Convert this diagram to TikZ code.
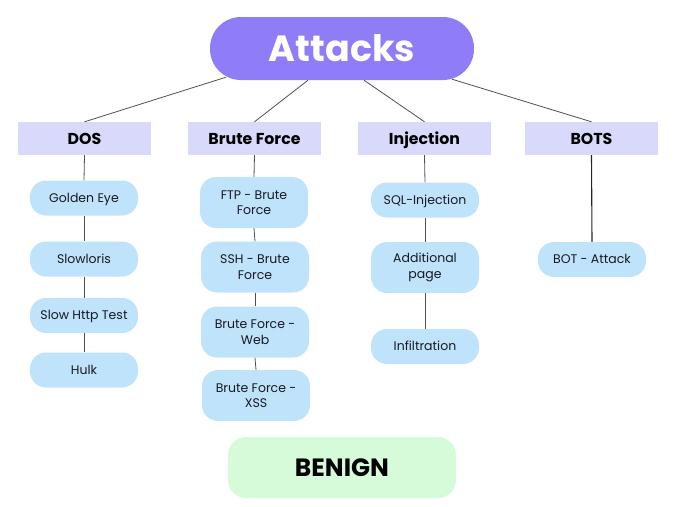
\documentclass[tikz,border=0pt]{standalone}
\usepackage{fontspec}
\setmainfont{Poppins}
\definecolor{purp}{RGB}{143,124,247}
\definecolor{lav}{RGB}{217,217,252}
\definecolor{lblue}{RGB}{190,227,251}
\definecolor{lgreen}{RGB}{214,251,217}
\definecolor{txt}{RGB}{25,25,35}
\definecolor{ln}{RGB}{80,80,80}
\begin{document}
\begin{tikzpicture}[x=1pt,y=-1pt,
  root/.style={fill=purp,rounded corners=31pt,minimum width=264pt,minimum height=63pt,inner sep=0pt,text=white,font=\fontsize{36.5}{38}\selectfont\bfseries},
  cat/.style={fill=lav,minimum width=133pt,minimum height=33pt,inner sep=0pt,text=black,text height=13pt,text depth=2pt,font=\fontsize{15.8}{18}\selectfont\bfseries},
  item/.style={fill=lblue,rounded corners=16pt,minimum width=108pt,inner sep=0pt,text=txt,align=center,font=\fontsize{12.5}{15.5}\selectfont},
  short/.style={item,minimum height=35pt,text height=10.8pt,text depth=2pt},
  tall/.style={item,minimum height=51pt},
  benign/.style={fill=lgreen,rounded corners=18pt,minimum width=228pt,minimum height=61pt,inner sep=0pt,text=black,text height=20pt,text depth=2.5pt,font=\fontsize{25}{27}\selectfont\bfseries},
  conn/.style={draw=ln,line width=0.8pt}
]
\useasboundingbox (0,0) rectangle (680,506);
\node[root] (attacks) at (342,48.5) {Attacks};
\node[cat] (dos) at (84.5,138.5) {DOS};
\node[cat] (bf) at (254.5,138.5) {Brute Force};
\node[cat] (inj) at (424.5,138.5) {Injection};
\node[cat] (bots) at (591.5,138.5) {BOTS};

\node[short] (ge) at (84,198) {Golden Eye};
\node[short] (sl) at (84,259) {Slowloris};
\node[short] (sht) at (84,315.5) {Slow Http Test};
\node[short] (hulk) at (84,370) {Hulk};

\node[tall] (ftp) at (254,202.5) {FTP - Brute\\Force};
\node[tall] (ssh) at (255,267) {SSH - Brute\\Force};
\node[tall] (bfw) at (255,332) {Brute Force -\\Web};
\node[tall] (bfx) at (256,395.5) {Brute Force -\\XSS};

\node[short] (sql) at (425,200) {SQL-Injection};
\node[tall] (add) at (425,267.5) {Additional\\page};
\node[short] (infil) at (425,346.5) {Infiltration};

\node[short] (bot) at (592,259.5) {BOT - Attack};

\node[benign] (benign) at (342,467.5) {BENIGN};

\draw[conn] ([xshift=-116pt,yshift=3pt]attacks.south) -- (dos.north);
\draw[conn] ([xshift=-34pt]attacks.south) -- (bf.north);
\draw[conn] ([xshift=22pt]attacks.south) -- (inj.north);
\draw[conn] ([xshift=110pt,yshift=1pt]attacks.south) -- (bots.north);

\draw[conn] (dos.south) -- (ge.north);
\draw[conn] (ge.south) -- (sl.north);
\draw[conn] (sl.south) -- (sht.north);
\draw[conn] (sht.south) -- (hulk.north);

\draw[conn] (bf.south) -- (ftp.north);
\draw[conn] (ftp.south) -- (ssh.north);
\draw[conn] (ssh.south) -- (bfw.north);
\draw[conn] (bfw.south) -- (bfx.north);

\draw[conn] (inj.south) -- (sql.north);
\draw[conn] (sql.south) -- (add.north);
\draw[conn] (add.south) -- (infil.north);

\draw[conn,draw=black!85,line width=1.1pt] (bots.south) -- (bot.north);
\end{tikzpicture}
\end{document}
